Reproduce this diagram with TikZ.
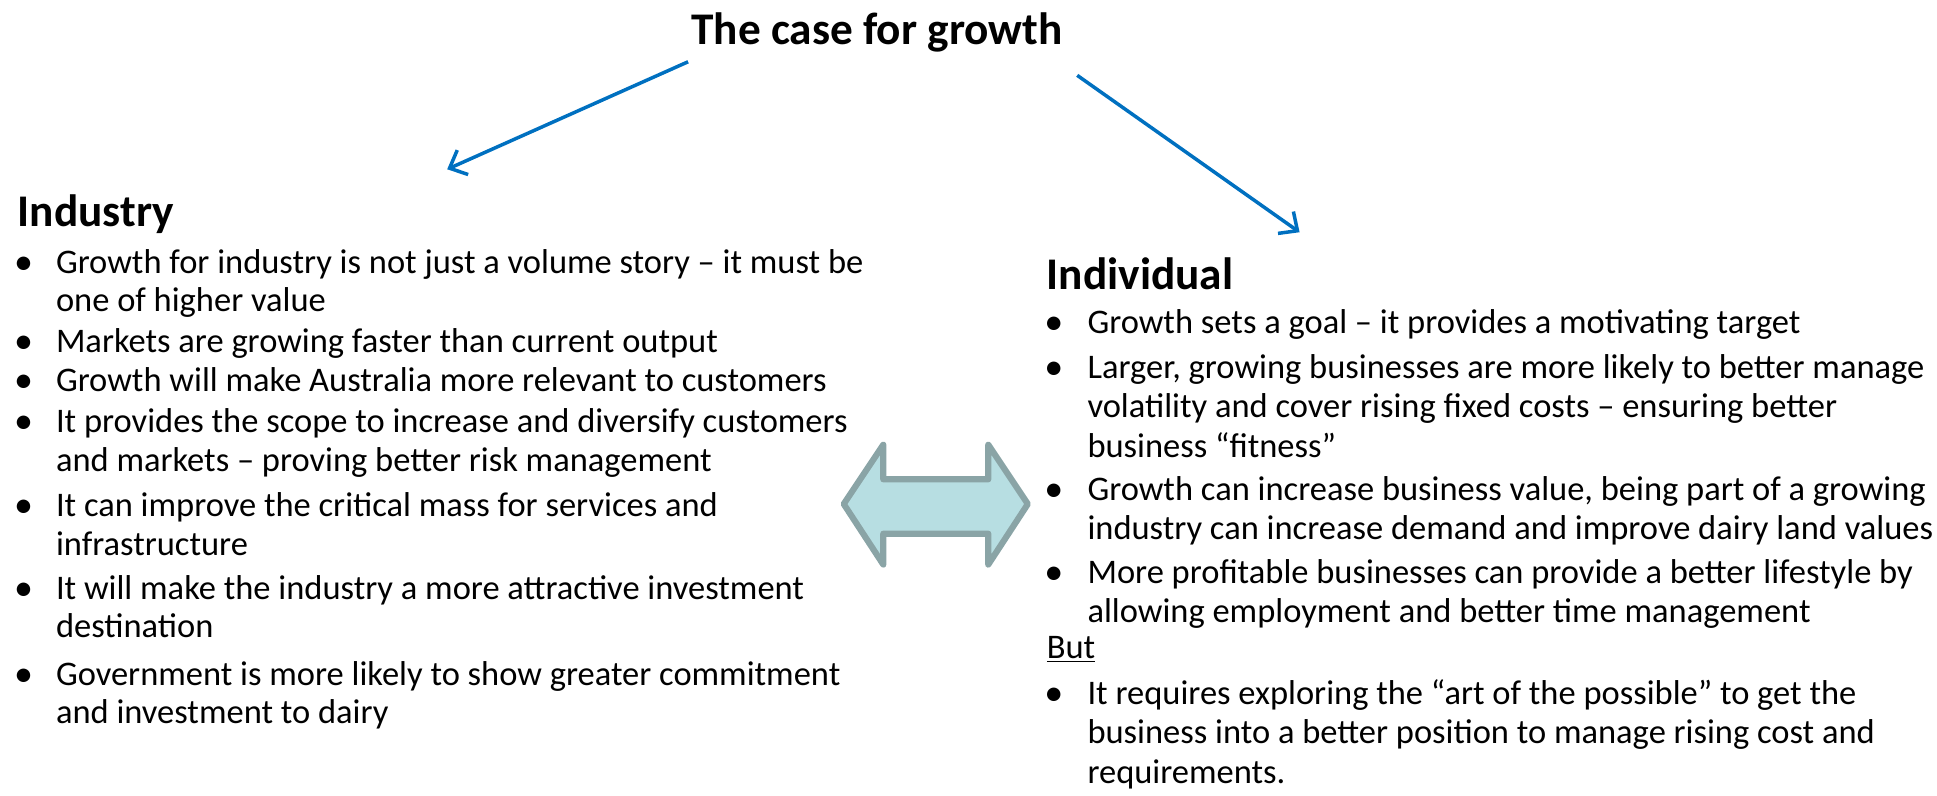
\documentclass[tikz,border=0pt]{standalone}
\usepackage{fontspec}
\setmainfont{Carlito}
\usetikzlibrary{arrows.meta}
\definecolor{arrowblue}{HTML}{0070C0}
\definecolor{dafill}{HTML}{B7DEE2}
\definecolor{dadraw}{HTML}{8AA4A6}
\tikzset{
  body/.style={anchor=base west, inner sep=0pt, font=\fontsize{16.75}{19.4}\selectfont},
  bul/.style={anchor=base west, inner sep=0pt, yshift=-0.6pt, font=\fontsize{18.5}{19.4}\selectfont},
  head/.style={anchor=base west, inner sep=0pt, font=\fontsize{22}{26}\selectfont\bfseries},
  conn/.style={arrowblue, line width=1.7pt, -{Straight Barb[length=7pt,width=13pt,line width=1.7pt]}},
}
\begin{document}
\begin{tikzpicture}[x=0.6pt,y=-0.6pt]
\useasboundingbox (0,0) rectangle (1568,644);
% title
\node[anchor=base, inner sep=0pt, font=\fontsize{22}{26}\selectfont\bfseries] (title) at (710,36) {The case for growth};
\coordinate (ls) at (557,50);
\coordinate (le) at (362,137);
\coordinate (rs) at (872,61);
\coordinate (re) at (1052,188);
\draw[conn] (ls) -- (le);
\draw[conn] (rs) -- (re);
% Industry column
\node[head] (ind) at (14,183) {Industry};
\node[bul] (ib1) at (11,221) {•};
\node[body] (i1a) at (45,221) {Growth for industry is not just a volume story – it must be};
\node[body] (i1b) at (45,252) {one of higher value};
\node[bul] (ib2) at (11,285) {•};
\node[body] (i2a) at (45,285) {Markets are growing faster than current output};
\node[bul] (ib3) at (11,317) {•};
\node[body] (i3a) at (45,317) {Growth will make Australia more relevant to customers};
\node[bul] (ib4) at (11,350) {•};
\node[body] (i4a) at (45,350) {It provides the scope to increase and diversify customers};
\node[body] (i4b) at (45,382) {and markets – proving better risk management};
\node[bul] (ib5) at (11,418) {•};
\node[body] (i5a) at (45,418) {It can improve the critical mass for services and};
\node[body] (i5b) at (45,450) {infrastructure};
\node[bul] (ib6) at (11,485) {•};
\node[body] (i6a) at (45,485) {It will make the industry a more attractive investment};
\node[body] (i6b) at (45,516) {destination};
\node[bul] (ib7) at (11,555) {•};
\node[body] (i7a) at (45,555) {Government is more likely to show greater commitment};
\node[body] (i7b) at (45,586) {and investment to dairy};
% Individual column
\node[head] (indv) at (847,234) {Individual};
\node[bul] (jb1) at (845,270) {•};
\node[body] (j1a) at (880,270) {Growth sets a goal – it provides a motivating target};
\node[bul] (jb2) at (845,306) {•};
\node[body] (j2a) at (880,306) {Larger, growing businesses are more likely to better manage};
\node[body] (j2b) at (880,338) {volatility and cover rising fixed costs – ensuring better};
\node[body] (j2c) at (880,370) {business “fitness”};
\node[bul] (jb3) at (845,405) {•};
\node[body] (j3a) at (880,405) {Growth can increase business value, being part of a growing};
\node[body] (j3b) at (880,437) {industry can increase demand and improve dairy land values};
\node[bul] (jb4) at (845,472) {•};
\node[body] (j4a) at (880,472) {More profitable businesses can provide a better lifestyle by};
\node[body] (j4b) at (880,504) {allowing employment and better time management};
\node[body] (but) at (847,533) {\underline{But}};
\node[bul] (jb5) at (845,570) {•};
\node[body] (j5a) at (880,570) {It requires exploring the “art of the possible” to get the};
\node[body] (j5b) at (880,602) {business into a better position to manage rising cost and};
\node[body] (j5c) at (880,634) {requirements.};
% double arrow
\draw[dadraw, fill=dafill, line width=3pt, line join=round]
  (683,408) -- (715,360) -- (715,388) -- (800,388) -- (800,360) -- (832,408)
  -- (800,457) -- (800,432) -- (715,432) -- (715,457) -- cycle;
\end{tikzpicture}
\end{document}
